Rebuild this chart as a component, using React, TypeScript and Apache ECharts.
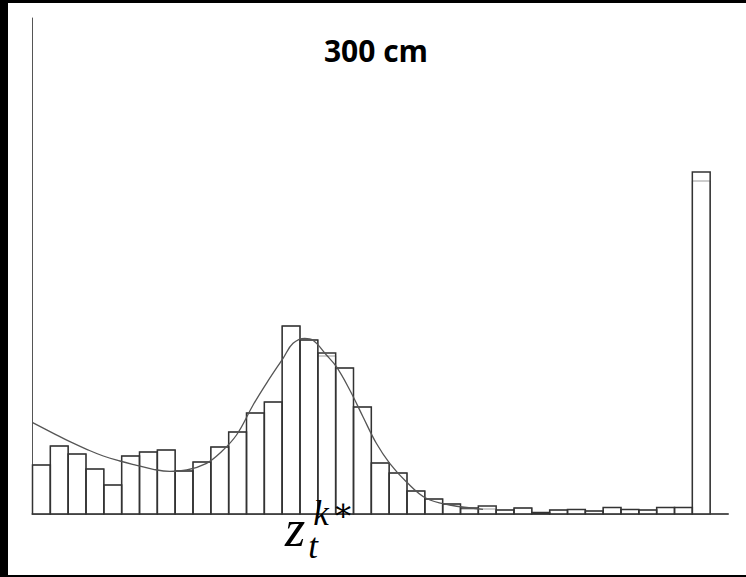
import React, { useEffect, useRef } from "react";
import * as echarts from "echarts";

// Histogram bin counts (arbitrary units), 39 bins
const histDark: number[] = [
  49, 68, 60, 45, 29, 58, 62, 64, 43, 52, 67, 82, 101, 112, 188, 174, 161, 146, 107, 51,
  41, 23, 15, 10, 6, 8, 4, 6, 1.5, 4, 4.5, 3, 6.5, 4.5, 4, 6.5, 6.5, 342, 0,
];
const histGrey: number[] = [
  49, 68, 60, 45, 29, 58, 62, 64, 43, 52, 67, 82, 101, 112, 188, 174, 158, 146, 107, 51,
  41, 23, 15, 10, 5, 5, 4, 6, 1.5, 4, 4.5, 3, 6.5, 4.5, 4, 6.5, 6.5, 333, 0,
];
// Fitted density curve: positions in bin units, heights in same units as histogram
const curveX: number[] = [
  0.01, 1.17, 2.1, 3.04, 3.97, 4.9, 5.84, 6.77, 7.7, 8.64, 9.76, 10.5, 11.44, 12.37, 13.12,
  14.05, 14.61, 15.27, 15.71, 16.48, 17.04, 17.79, 18.53, 19.28, 20.03, 20.96, 22.08, 23.39, 25.26,
];
const curveY: number[] = [
  91.3, 80.7, 72.3, 64.7, 58, 53, 48.7, 44.7, 42.7, 44, 50.7, 60.7, 79, 109, 130.7,
  155.7, 170.7, 175.7, 174, 159, 147.3, 124, 97.3, 70.7, 50.7, 32.3, 15.7, 9, 4.7,
];
const titleText = "300 cm";

function histSeries(values: number[], fill: string, stroke: string, width: number) {
  return {
    type: "custom",
    xAxisIndex: 0,
    data: values.map((v, i) => [i, v]),
    renderItem: (params: any, api: any) => {
      const i = api.value(0);
      const v = api.value(1);
      if (!v) return null;
      const p0 = api.coord([i, v]);
      const p1 = api.coord([i + 1, 0]);
      return {
        type: "rect",
        shape: { x: p0[0], y: p0[1], width: p1[0] - p0[0], height: p1[1] - p0[1] },
        style: { fill, stroke, lineWidth: width },
      };
    },
  };
}

export default function App() {
  const ref = useRef<HTMLDivElement>(null);
  useEffect(() => {
    if (!ref.current) return;
    const chart = echarts.init(ref.current, null, { renderer: "svg" });
    chart.setOption({
      animation: false,
      backgroundColor: "#ffffff",
      title: {
        text: titleText,
        left: 363,
        textAlign: "center",
        top: 27,
        textStyle: { fontFamily: "Open Sans", fontWeight: "bold", fontSize: 30, color: "#000" },
      },
      grid: { left: 24.5, right: 18, top: 15, bottom: 61, containLabel: false },
      xAxis: {
        type: "value",
        min: 0,
        max: 39,
        axisLine: { show: true, onZero: false, lineStyle: { color: "#555", width: 2 } },
        axisTick: { show: false },
        axisLabel: { show: false },
        splitLine: { show: false },
      },
      yAxis: {
        type: "value",
        min: 0,
        max: 496,
        axisLine: { show: true, lineStyle: { color: "#555", width: 1 } },
        axisTick: { show: false },
        axisLabel: { show: false },
        splitLine: { show: false },
      },
      series: [
        histSeries(histGrey, "#fff", "#999", 1),
        histSeries(histDark, "none", "#333", 1.5),
        {
          type: "line",
          data: curveX.map((x, i) => [x, curveY[i]]),
          smooth: 0.4,
          showSymbol: false,
          z: 5,
          lineStyle: { color: "#555", width: 1.3 },
        },
      ],
      graphic: [
        {
          type: "text",
          z: 100,
          x: 287,
          y: 525,
          style: { text: "z", font: "italic 52px 'Liberation Serif'", fill: "#000", align: "center", verticalAlign: "middle" },
        },
        {
          type: "text",
          z: 100,
          x: 313,
          y: 510,
          style: { text: "k", font: "italic 35px 'Liberation Serif'", fill: "#000", align: "center", verticalAlign: "middle" },
        },
        {
          type: "text",
          z: 100,
          x: 335,
          y: 507,
          style: { text: "∗", font: "32px 'DejaVu Serif'", fill: "#000", align: "center", verticalAlign: "middle" },
        },
        {
          type: "text",
          z: 100,
          x: 305,
          y: 543,
          style: { text: "t", font: "italic 35px 'Liberation Serif'", fill: "#000", align: "center", verticalAlign: "middle" },
        },
      ],
    });
    return () => chart.dispose();
  }, []);
  return (
    <div style={{ position: "fixed", left: 0, top: 0, width: 746, height: 577, background: "#fff", overflow: "hidden" }}>
      <div style={{ position: "absolute", left: 0, top: 0, width: 8, height: 577, background: "#000" }} />
      <div style={{ position: "absolute", left: 0, top: 0, width: 746, height: 3, background: "#000" }} />
      <div style={{ position: "absolute", left: 0, top: 575, width: 746, height: 2, background: "#000" }} />
      <div
        ref={ref}
        style={{ position: "absolute", left: 8, top: 3, width: 738, height: 572, background: "#fff" }}
      />
    </div>
  );
}
